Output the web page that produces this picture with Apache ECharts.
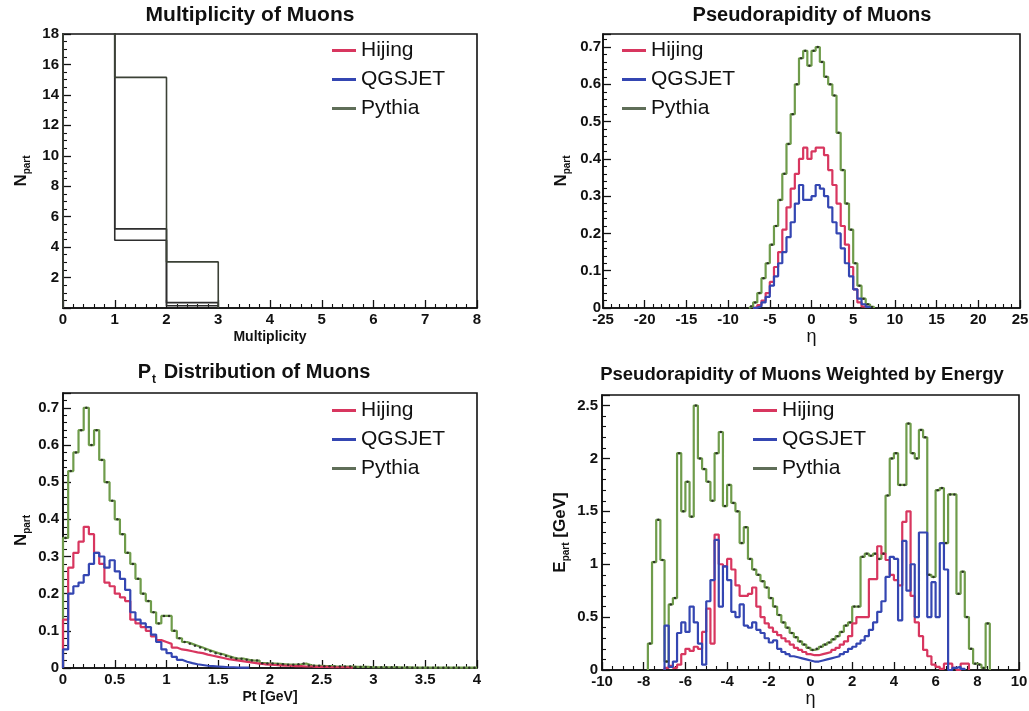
<!DOCTYPE html>
<html><head><meta charset="utf-8">
<script src="https://cdn.jsdelivr.net/npm/echarts@6/dist/echarts.min.js"></script>
<style>html,body{margin:0;padding:0;background:#fff}#c{width:1029px;height:711px}</style>
</head><body><div id="c"></div>
<script>
// ---------- DATA ----------
const seriesNames = ['Hijing', 'QGSJET', 'Pythia'];

// Panel 1: Multiplicity of Muons (bins of width 1 starting at 0; first bin is off-scale)
const multStart = 0, multBin = 1;
const multHijing = [30, 5.2, 0.35];
const multQgsjet = [30, 4.45, 0.15];
const multPythia = [30, 15.15, 3.03];

// Panel 2: Pseudorapidity of Muons (bin width 0.5)
const etaBin = 0.5;
const etaHijingStart = -7.0;
const etaHijing = [0.002,0.008,0.02,0.04,0.07,0.11,0.15,0.21,0.27,0.32,0.36,0.40,0.43,0.40,0.42,0.43,0.43,0.41,0.37,0.33,0.28,0.22,0.17,0.11,0.05,0.015,0.004];
const etaQgsjetStart = -7.0;
const etaQgsjet = [0.001,0.005,0.015,0.03,0.06,0.085,0.12,0.15,0.19,0.23,0.28,0.33,0.29,0.29,0.30,0.33,0.32,0.30,0.27,0.23,0.20,0.16,0.12,0.085,0.05,0.025,0.01,0.003];
const etaPythiaStart = -7.5;
const etaPythia = [0.005,0.015,0.04,0.08,0.12,0.17,0.22,0.29,0.36,0.44,0.52,0.60,0.67,0.69,0.65,0.69,0.70,0.66,0.62,0.60,0.57,0.47,0.37,0.28,0.21,0.12,0.06,0.025,0.01,0.003];

// Panel 3: Pt distribution (bin width 0.05 GeV starting at 0)
const ptBin = 0.05, ptStart = 0;
const ptHijing = [0.13,0.27,0.31,0.34,0.38,0.36,0.31,0.28,0.23,0.22,0.20,0.19,0.18,0.13,0.12,0.11,0.10,0.085,0.075,0.07,0.065,0.055,0.05,0.048,0.045,0.042,0.04,0.036,0.033,0.03,0.027,0.024,0.022,0.02,0.018,0.016,0.014,0.012,0.01,0.009,0.008,0.007,0.006,0.006,0.005,0.005,0.004,0.004,0.003,0.003,0.003,0.002,0.002,0.002,0.002,0.001];
const ptQgsjet = [0.05,0.20,0.22,0.23,0.25,0.28,0.31,0.30,0.27,0.29,0.26,0.24,0.21,0.15,0.13,0.12,0.11,0.09,0.07,0.05,0.04,0.03,0.022,0.017,0.013,0.01,0.008,0.006,0.005,0.004,0.003,0.002,0.002,0.001,0.001,0.001];
const ptPythia = [0.35,0.53,0.58,0.64,0.70,0.60,0.64,0.56,0.50,0.45,0.40,0.36,0.31,0.28,0.24,0.20,0.18,0.15,0.12,0.14,0.14,0.10,0.08,0.07,0.065,0.06,0.055,0.05,0.045,0.04,0.037,0.032,0.028,0.025,0.025,0.022,0.02,0.02,0.013,0.012,0.012,0.011,0.010,0.009,0.009,0.010,0.012,0.007,0.006,0.006,0.005,0.005,0.004,0.004,0.004,0.004,0.003,0.003,0.003,0.002,0.002,0.002,0.002,0.002,0.002,0.001,0.002,0.001,0.001,0.001,0.001,0.001,0.001,0.001,0.001,0.001,0.001,0.001,0.001,0.001];

// Panel 4: Pseudorapidity weighted by energy (bin width 0.2)
const ewBin = 0.2;
const ewHijingStart = -7.0;
const ewHijing = [0.02,0.04,0.02,0.05,0.15,0.2,0.18,0.22,0.2,0.36,0.58,0.25,1.28,1.0,0.98,1.05,0.95,0.8,0.7,0.7,0.72,0.78,0.6,0.5,0.44,0.4,0.36,0.33,0.3,0.27,0.24,0.21,0.19,0.17,0.15,
  0.14,0.14,0.15,0.16,0.17,0.19,0.21,0.24,0.27,0.32,0.44,0.5,0.5,0.5,0.86,0.86,1.17,1.1,1.04,0.9,0.85,0.8,1.4,1.5,0.7,0.45,0.32,0.19,0.13,0.05,0.03,0.01,0.06,0.06,0.02,0.0,0.06,0.06];
const ewQgsjetStart = -7.0;
const ewQgsjet = [0.42,0.03,0.08,0.35,0.45,0.36,0.6,0.45,0.25,0.05,0.65,0.85,1.23,0.6,0.98,0.85,0.55,0.5,0.62,0.42,0.4,0.45,0.38,0.35,0.3,0.26,0.28,0.2,0.17,0.15,0.13,0.12,0.11,0.1,0.09,
  0.08,0.08,0.09,0.1,0.11,0.12,0.13,0.15,0.17,0.2,0.22,0.25,0.28,0.32,0.38,0.45,0.55,0.65,0.88,1.07,1.05,0.47,1.22,0.75,1.0,0.5,1.3,1.3,0.5,0.83,0.5,1.2,0.95,0.0,0.02,0.03,0.01];
const ewPythiaStart = -7.8;
const ewPythia = [0.25,1.02,1.42,1.04,0.08,0.62,0.68,2.05,1.5,1.78,1.45,2.5,2.0,1.9,1.78,1.6,2.05,2.25,1.55,1.75,1.58,1.5,1.2,1.35,1.05,0.95,0.9,0.84,0.78,0.68,0.6,0.52,0.45,0.4,0.35,0.31,0.27,0.24,0.21,
  0.19,0.2,0.22,0.24,0.26,0.29,0.32,0.36,0.42,0.45,0.6,0.6,1.07,1.1,1.08,1.1,1.05,1.1,1.65,2.0,2.05,1.75,1.75,2.33,2.05,2.0,2.27,2.2,0.9,0.88,1.7,1.72,1.2,1.66,1.66,0.72,0.93,0.5,0.2,0.06,0.05,0.02,0.44];

// ---------- STYLE ----------
const colors = { Hijing: '#d8365f', QGSJET: '#3446b2', Pythia: '#6f9c4b' };
const legendColors = { Hijing: '#d8365f', QGSJET: '#3446b2', Pythia: '#5f6e58' };
const FONT = '"Liberation Sans", Arial, Helvetica, sans-serif';

function stepData(x0, w, vals) {
  const d = [[x0, 0]];
  vals.forEach((v, i) => d.push([+(x0 + i * w).toFixed(4), v]));
  const xe = +(x0 + vals.length * w).toFixed(4);
  d.push([xe, vals[vals.length - 1]]);
  d.push([xe, 0]);
  return d;
}
function centers(x0, w, vals) {
  return vals.map((v, i) => [+(x0 + (i + 0.5) * w).toFixed(4), v]).filter(p => p[1] > 0.0);
}
function lineSeries(name, gi, data, color, width) {
  return { name, type: 'line', xAxisIndex: gi, yAxisIndex: gi, step: 'end', symbol: 'none',
    showSymbol: false, animation: false, clip: true, data,
    lineStyle: { color, width: width || 2.2 }, itemStyle: { color }, z: 3 };
}
function dotSeries(name, gi, data) {
  return { name, type: 'scatter', xAxisIndex: gi, yAxisIndex: gi, symbolSize: 2.5, animation: false,
    clip: true, data, itemStyle: { color: '#1a1a1a' }, z: 4, silent: true };
}

const grids = [
  { left: 63, top: 34, width: 414, height: 274 },
  { left: 603, top: 34, width: 417, height: 274 },
  { left: 63, top: 393, width: 414, height: 275 },
  { left: 602, top: 395, width: 417, height: 275 }
].map(g => Object.assign(g, { show: true, borderColor: '#111', borderWidth: 1.6, backgroundColor: 'transparent', containLabel: false, outerBoundsMode: 'none' }));

const labelStyle = { fontFamily: FONT, fontWeight: 'bold', fontSize: 15, color: '#111' };
function xAxis(gi, min, max, interval, minorSplit, name, nameStyle, gap) {
  return { type: 'value', gridIndex: gi, min, max, interval,
    axisLine: { show: true, onZero: false, lineStyle: { color: '#111', width: 1.6 } },
    axisTick: { show: true, inside: true, length: 8, lineStyle: { color: '#111', width: 1.3 } },
    minorTick: { show: true, splitNumber: minorSplit, length: 4, lineStyle: { color: '#111', width: 1.1 } },
    splitLine: { show: false }, minorSplitLine: { show: false },
    axisLabel: Object.assign({ margin: 4 }, labelStyle),
    name, nameLocation: 'middle', nameGap: gap, nameTextStyle: nameStyle };
}
function yAxis(gi, min, max, interval, minorSplit, name, opts) {
  opts = opts || {};
  return { type: 'value', gridIndex: gi, min, max, interval,
    axisLine: { show: true, onZero: false, lineStyle: { color: '#111', width: 1.6 } },
    axisTick: { show: true, inside: true, length: 8, lineStyle: { color: '#111', width: 1.3 } },
    minorTick: { show: true, splitNumber: minorSplit, length: 4, lineStyle: { color: '#111', width: 1.1 } },
    splitLine: { show: false }, minorSplitLine: { show: false },
    axisLabel: Object.assign({ margin: opts.margin == null ? 4 : opts.margin, showMaxLabel: opts.showMax !== false ? null : false, showMinLabel: opts.showMin === false ? false : null }, labelStyle),
    name, nameLocation: 'middle', nameGap: 33, nameRotate: 90,
    nameTextStyle: { rich: {
      n: { fontFamily: FONT, fontWeight: 'bold', fontSize: 17, color: '#111', lineHeight: 17, verticalAlign: 'top' },
      s: { fontFamily: FONT, fontWeight: 'bold', fontSize: 10, color: '#111', lineHeight: 10, verticalAlign: 'top', padding: [9, 0, 0, 0] }
    } } };
}
const boldName = { fontFamily: FONT, fontWeight: 'bold', fontSize: 14, color: '#111' };
const etaName = { fontFamily: FONT, fontSize: 18, color: '#111' };

function legend(left, top) {
  return { left, top, padding: 0, orient: 'vertical', icon: 'rect', itemWidth: 24, itemHeight: 3, itemGap: 8,
    selectedMode: false,
    textStyle: { fontFamily: FONT, fontSize: 21, color: '#111', lineHeight: 21 },
    data: seriesNames.map(n => ({ name: n, icon: 'rect', itemStyle: { color: legendColors[n] } })) };
}

const series = [];
// panel 1 (drawn dark as in the original)
[multHijing, multQgsjet, multPythia].forEach((vals, i) => {
  series.push(lineSeries(seriesNames[i], 0, stepData(multStart, multBin, vals), i === 2 ? '#3b4136' : '#2e2e2e', 1.6));
});
// panel 2
series.push(lineSeries('Pythia', 1, stepData(etaPythiaStart, etaBin, etaPythia), colors.Pythia));
series.push(lineSeries('Hijing', 1, stepData(etaHijingStart, etaBin, etaHijing), colors.Hijing));
series.push(lineSeries('QGSJET', 1, stepData(etaQgsjetStart, etaBin, etaQgsjet), colors.QGSJET));
series.push(dotSeries('Pythia', 1, centers(etaPythiaStart, etaBin, etaPythia)));
// panel 3
series.push(lineSeries('Pythia', 2, stepData(ptStart, ptBin, ptPythia), colors.Pythia));
series.push(lineSeries('Hijing', 2, stepData(ptStart, ptBin, ptHijing), colors.Hijing));
series.push(lineSeries('QGSJET', 2, stepData(ptStart, ptBin, ptQgsjet), colors.QGSJET));
series.push(dotSeries('Pythia', 2, centers(ptStart, ptBin, ptPythia)));
// panel 4
series.push(lineSeries('Pythia', 3, stepData(ewPythiaStart, ewBin, ewPythia), colors.Pythia));
series.push(lineSeries('Hijing', 3, stepData(ewHijingStart, ewBin, ewHijing), colors.Hijing));
series.push(lineSeries('QGSJET', 3, stepData(ewQgsjetStart, ewBin, ewQgsjet), colors.QGSJET));
series.push(dotSeries('Pythia', 3, centers(ewPythiaStart, ewBin, ewPythia)));

function titleText(x, y, text, size, rich) {
  const st = { text, x: 0, y: 0, font: 'bold ' + size + 'px ' + FONT, fill: '#111',
    textAlign: 'center', textVerticalAlign: 'middle', align: 'center', verticalAlign: 'middle' };
  if (rich) st.rich = rich;
  return { type: 'text', x, y, style: st, z: 10 };
}

const option = {
  backgroundColor: '#fff',
  animation: false,
  grid: grids,
  xAxis: [
    xAxis(0, 0, 8, 1, 5, 'Multiplicity', boldName, 22),
    xAxis(1, -25, 25, 5, 5, 'η', etaName, 20),
    xAxis(2, 0, 4, 0.5, 5, 'Pt [GeV]', boldName, 22),
    xAxis(3, -10, 10, 2, 4, 'η', etaName, 18)
  ],
  yAxis: [
    yAxis(0, 0, 18, 2, 4, '{n|N}{s|part}', { showMin: false }),
    yAxis(1, 0, 0.735, 0.1, 5, '{n|N}{s|part}', { showMax: false, margin: 2 }),
    yAxis(2, 0, 0.74, 0.1, 5, '{n|N}{s|part}', { showMax: false }),
    yAxis(3, 0, 2.6, 0.5, 5, '{n|E}{s|part}{n| [GeV]}', { showMax: false })
  ],
  legend: [legend(332, 40), legend(622, 40), legend(332, 400), legend(753, 400)],
  series,
  graphic: [
    titleText(250, 15, 'Multiplicity of Muons', 21),
    titleText(812, 15, 'Pseudorapidity of Muons', 20),
    titleText(254, 372, '{p|P}{t|t}{p| Distribution of Muons}', 20, {
      p: { font: 'bold 20px ' + FONT, fill: '#111', lineHeight: 20, verticalAlign: 'top' },
      t: { font: 'bold 12px ' + FONT, fill: '#111', lineHeight: 12, verticalAlign: 'top', padding: [12, 2, 0, 1] }
    }),
    titleText(802, 375, 'Pseudorapidity of Muons Weighted by Energy', 18.5)
  ]
};

const chart = echarts.init(document.getElementById('c'), null, { renderer: 'canvas' });
chart.setOption(option);
</script>
</body></html>
